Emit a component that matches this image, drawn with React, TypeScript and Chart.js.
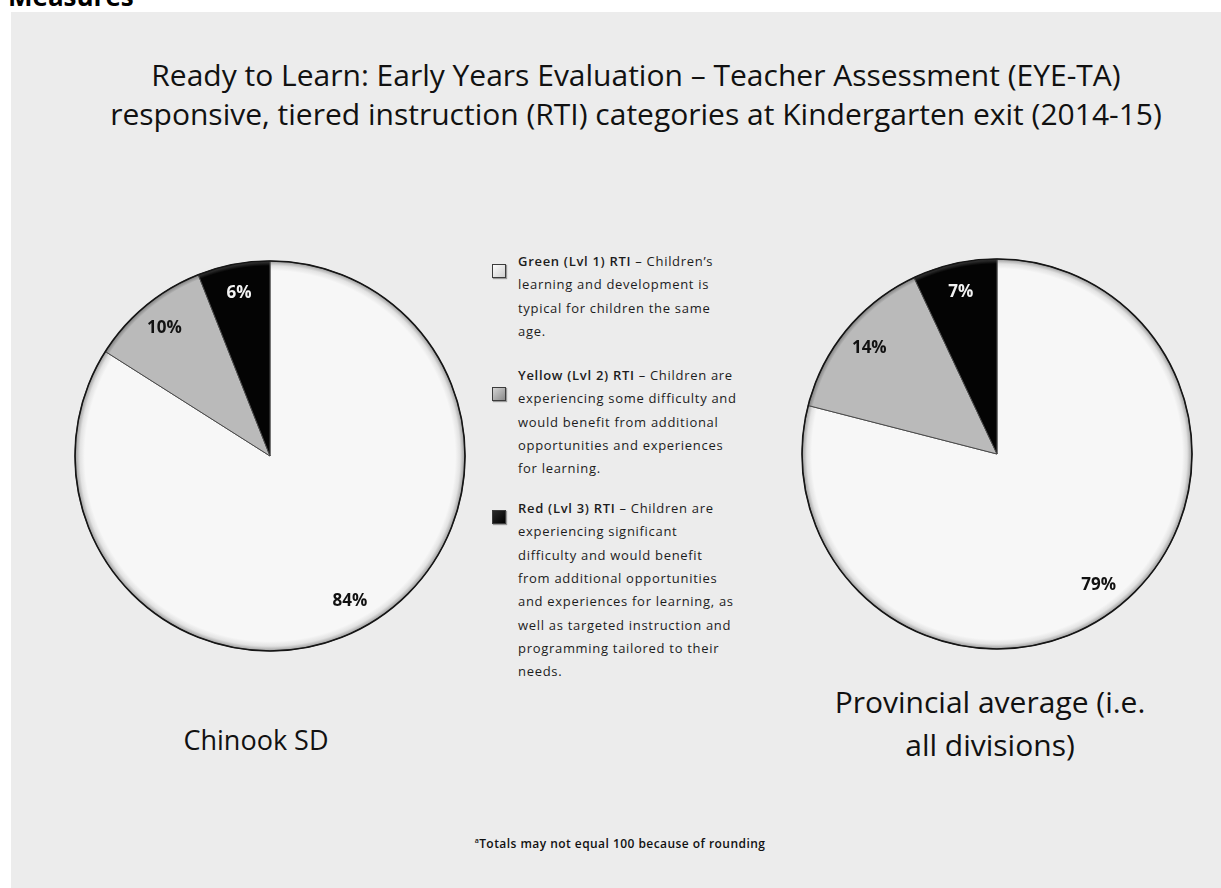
import React, { useEffect, useRef } from "react";
import { Chart, registerables } from "chart.js";

Chart.register(...registerables);

// ---------- data ----------
const categories = ["Green (Lvl 1) RTI", "Yellow (Lvl 2) RTI", "Red (Lvl 3) RTI"];
const chinookValues = [84, 10, 6];
const provincialValues = [79, 14, 7];
const pieNames = ["Chinook SD", "Provincial average (i.e.", "all divisions)"];
const titleLines = [
  "Ready to Learn: Early Years Evaluation \u2013 Teacher Assessment (EYE-TA)",
  "responsive, tiered instruction (RTI) categories at Kindergarten exit (2014-15)",
];
const greenDesc = ["learning and development is", "typical for children the same", "age."];
const yellowDesc = [
  "experiencing some difficulty and",
  "would benefit from additional",
  "opportunities and experiences",
  "for learning.",
];
const redDesc = [
  "experiencing significant",
  "difficulty and would benefit",
  "from additional opportunities",
  "and experiences for learning, as",
  "well as targeted instruction and",
  "programming tailored to their",
  "needs.",
];
const firstLineTails = [" \u2013 Children\u2019s", " \u2013 Children are", " \u2013 Children are"];
const footnote = "Totals may not equal 100 because of rounding";

// ---------- styles ----------
const FONT = "'Open Sans', 'DejaVu Sans', sans-serif";
const sliceBase = ["#f7f7f7", "#bababa", "#040404"];
const sliceEdge = ["#9a9a9a", "#7a7a7a", "#3a3a3a"];
const labelColors = ["#111111", "#111111", "#f2f2f2"];

const labelPlugin = {
  id: "sliceLabels",
  afterDatasetsDraw(chart: any) {
    const ctx = chart.ctx;
    const meta = chart.getDatasetMeta(0);
    const data = chart.data.datasets[0].data as number[];
    const first = meta.data[0] as any;
    if (first) {
      const p = first.getProps(["x", "y", "outerRadius"], true);
      ctx.save();
      ctx.beginPath();
      ctx.arc(p.x, p.y, p.outerRadius, 0, Math.PI * 2);
      ctx.lineWidth = 1.6;
      ctx.strokeStyle = "#151515";
      ctx.stroke();
      ctx.restore();
    }
    meta.data.forEach((arc: any, i: number) => {
      const p = arc.getProps(["x", "y", "startAngle", "endAngle", "outerRadius"], true);
      const mid = (p.startAngle + p.endAngle) / 2;
      const r = p.outerRadius * 0.85;
      const tx = p.x + Math.cos(mid) * r;
      const ty = p.y + Math.sin(mid) * r;
      ctx.save();
      ctx.font = `bold 17px ${FONT}`;
      ctx.fillStyle = labelColors[i];
      ctx.textAlign = "center";
      ctx.textBaseline = "middle";
      ctx.fillText(`${data[i]}%`, tx, ty);
      ctx.restore();
    });
  },
};

function PieChart({ values, left, top }: { values: number[]; left: number; top: number }) {
  const ref = useRef<HTMLCanvasElement | null>(null);
  useEffect(() => {
    if (!ref.current) return;
    const chart = new Chart(ref.current, {
      type: "pie",
      data: {
        labels: categories,
        datasets: [
          {
            data: values,
            backgroundColor: (c: any) => {
              const i = c.dataIndex ?? 0;
              const ch = c.chart;
              const area = ch.chartArea;
              if (!area) return sliceBase[i];
              const cx = (area.left + area.right) / 2;
              const cy = (area.top + area.bottom) / 2;
              const g = ch.ctx.createRadialGradient(cx, cy, 0, cx, cy, 195);
              g.addColorStop(0, sliceBase[i]);
              g.addColorStop(0.95, sliceBase[i]);
              g.addColorStop(0.975, i === 0 ? "#e2e2e2" : sliceBase[i]);
              g.addColorStop(1, sliceEdge[i]);
              return g;
            },
            borderColor: "#4a4a4a",
            borderWidth: 1,
            hoverOffset: 0,
            radius: 195,
          } as any,
        ],
      },
      options: {
        responsive: false,
        animation: false,
        events: [],
        layout: { padding: 0 },
        plugins: {
          legend: { display: false },
          tooltip: { enabled: false },
          title: { display: false },
        },
      },
      plugins: [labelPlugin],
    });
    return () => chart.destroy();
  }, [values]);
  return (
    <canvas
      ref={ref}
      width={420}
      height={420}
      style={{ position: "absolute", left, top, width: 420, height: 420 }}
    />
  );
}

function Marker({ left, top, kind }: { left: number; top: number; kind: number }) {
  const bg =
    kind === 0
      ? "linear-gradient(135deg, #fdfdfd, #cfcfcf)"
      : kind === 1
      ? "linear-gradient(135deg, #d4d4d4, #8a8a8a)"
      : "linear-gradient(135deg, #2a2a2a, #000000)";
  return (
    <div
      style={{
        position: "absolute",
        left,
        top,
        width: 12,
        height: 12,
        background: bg,
        border: "1.5px solid #3c3c3c",
        boxShadow: "1px 1px 1px rgba(0,0,0,0.35)",
      }}
    />
  );
}

function LegendBlock({ top, idx, lines }: { top: number; idx: number; lines: string[] }) {
  return (
    <div
      style={{
        position: "absolute",
        left: 518,
        top,
        fontFamily: FONT,
        fontSize: 13,
        lineHeight: "23.33px",
        letterSpacing: "0.7px",
        color: "#1c1c1c",
        whiteSpace: "nowrap",
      }}
    >
      <div>
        <span style={{ fontWeight: 600 }}>{categories[idx]}</span>
        {firstLineTails[idx]}
      </div>
      {lines.map((l, i) => (
        <div key={i}>{l}</div>
      ))}
    </div>
  );
}

export default function App() {
  return (
    <div
      style={{
        position: "fixed",
        left: 0,
        top: 0,
        width: 1221,
        height: 888,
        overflow: "hidden",
        background: "#ffffff",
        fontFamily: FONT,
      }}
    >
      <div
        style={{
          position: "absolute",
          left: 8,
          top: -17,
          fontSize: 26,
          lineHeight: "26px",
          fontWeight: 700,
          color: "#000",
        }}
      >
        Measures
      </div>
      <div
        style={{
          position: "absolute",
          left: 11,
          top: 12,
          width: 1210,
          height: 876,
          background: "#ececec",
        }}
      />
      <div
        style={{
          position: "absolute",
          left: 0,
          top: 55,
          width: 1272,
          textAlign: "center",
          fontSize: 30,
          lineHeight: "39px",
          fontWeight: 500,
          color: "#111",
        }}
      >
        {titleLines.map((t, i) => (
          <div key={i}>{t}</div>
        ))}
      </div>

      <PieChart values={chinookValues} left={60} top={246} />
      <PieChart values={provincialValues} left={787} top={244} />

      <Marker left={492} top={264} kind={0} />
      <Marker left={492} top={387} kind={1} />
      <Marker left={492} top={510} kind={2} />
      <LegendBlock top={250} idx={0} lines={greenDesc} />
      <LegendBlock top={364} idx={1} lines={yellowDesc} />
      <LegendBlock top={497} idx={2} lines={redDesc} />

      <div
        style={{
          position: "absolute",
          left: 106,
          top: 718,
          width: 300,
          textAlign: "center",
          fontSize: 27,
          lineHeight: "44px",
          color: "#111",
        }}
      >
        {pieNames[0]}
      </div>
      <div
        style={{
          position: "absolute",
          left: 740,
          top: 680,
          width: 500,
          textAlign: "center",
          fontSize: 30,
          lineHeight: "43px",
          color: "#111",
        }}
      >
        <div>{pieNames[1]}</div>
        <div>{pieNames[2]}</div>
      </div>

      <div
        style={{
          position: "absolute",
          left: 420,
          top: 833,
          width: 400,
          textAlign: "center",
          fontSize: 12,
          lineHeight: "16px",
          fontWeight: 600,
          letterSpacing: "0.45px",
          color: "#111",
        }}
      >
        <sup style={{ fontSize: 7 }}>a</sup>
        {footnote}
      </div>
    </div>
  );
}
